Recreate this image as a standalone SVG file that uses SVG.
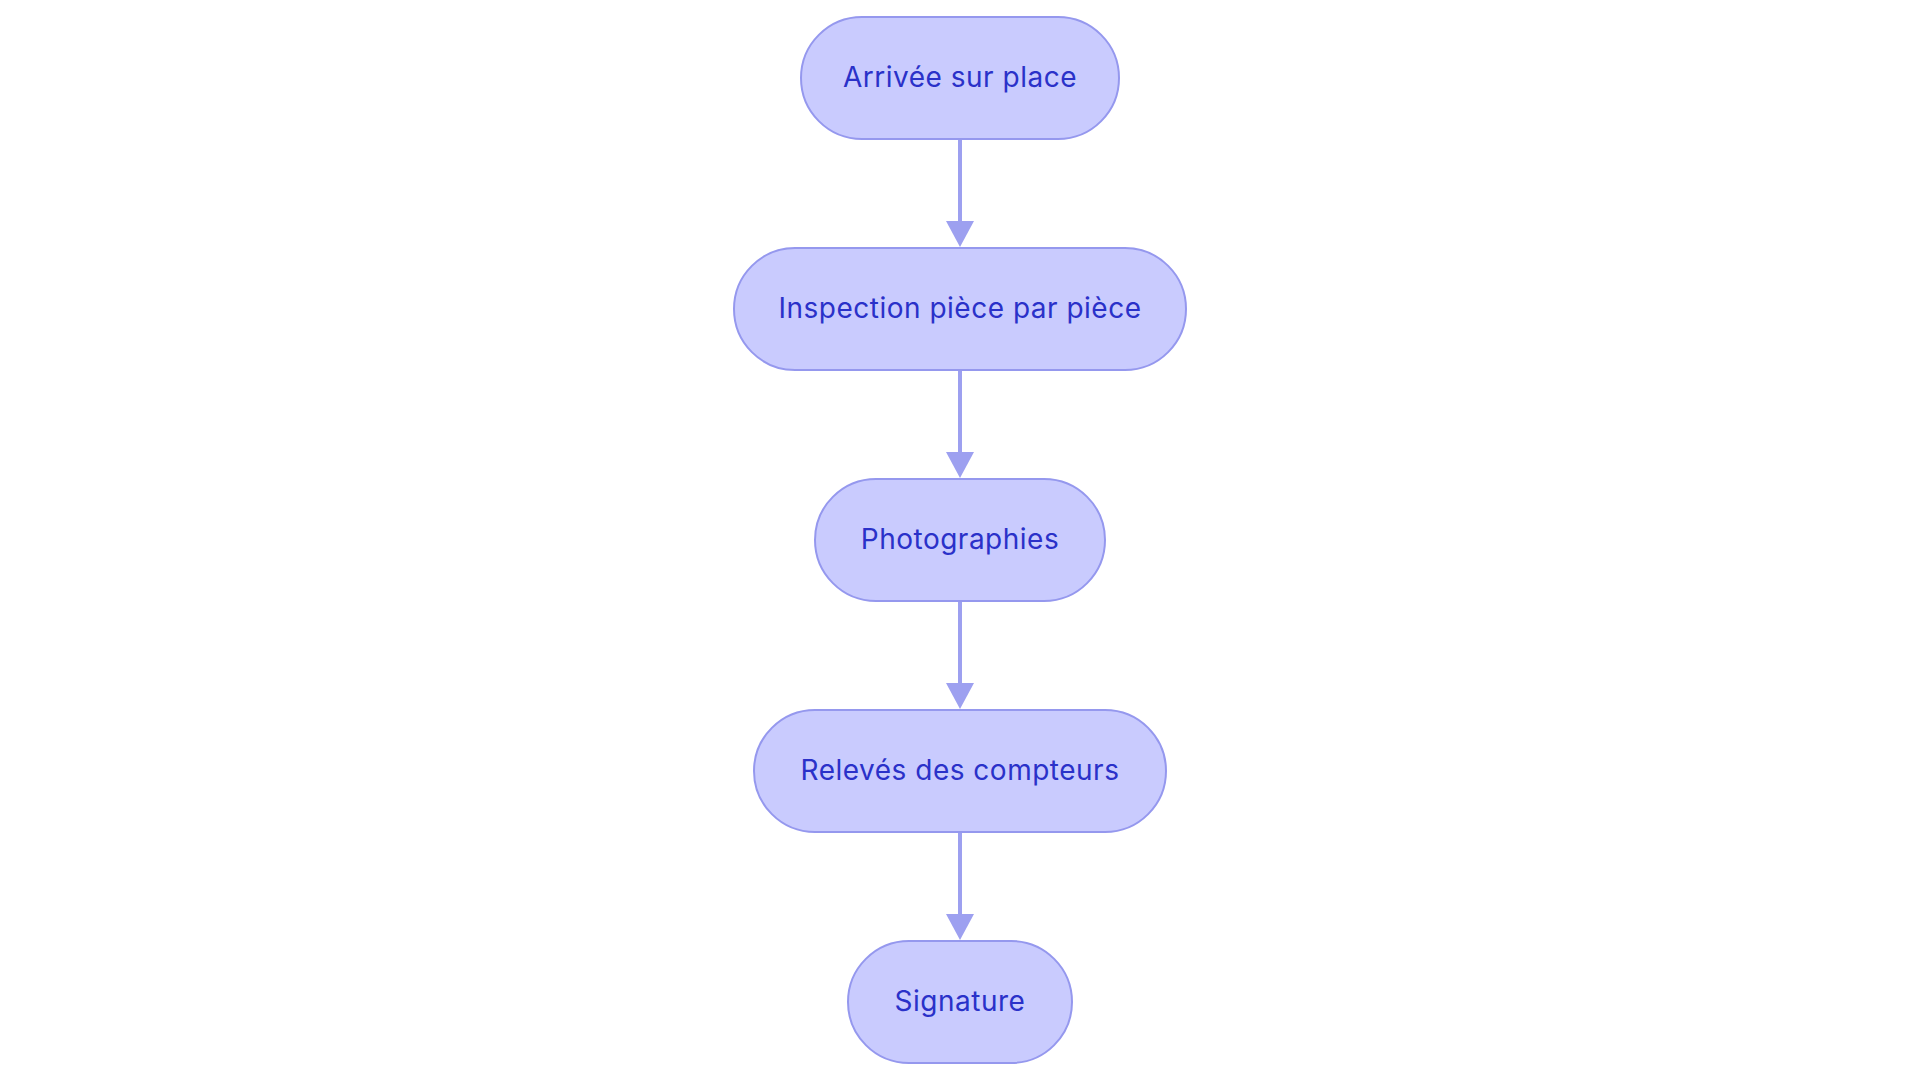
<svg xmlns="http://www.w3.org/2000/svg" width="1920" height="1083" viewBox="0 0 1920 1083">
<style>
.node rect{fill:#C9CBFE;stroke:#9598EE;stroke-width:2}
.node text{fill:#2A31C9;font-family:Inter,"Noto Sans",sans-serif;font-size:28px;letter-spacing:0.5px;text-anchor:middle}
.edge{stroke:#9DA0F0;stroke-width:4;fill:none}
.head{fill:#9DA0F0}
</style>
<rect width="1920" height="1083" fill="#FFFFFF"/>
<g id="connectors">
<line class="edge" x1="960" y1="139" x2="960" y2="222"/>
<path class="head" d="M946,221 L974,221 L960,247 Z"/>
<line class="edge" x1="960" y1="370" x2="960" y2="453"/>
<path class="head" d="M946,452 L974,452 L960,478 Z"/>
<line class="edge" x1="960" y1="601" x2="960" y2="684"/>
<path class="head" d="M946,683 L974,683 L960,709 Z"/>
<line class="edge" x1="960" y1="832" x2="960" y2="915"/>
<path class="head" d="M946,914 L974,914 L960,940 Z"/>
</g>
<g id="n1" class="node"><rect x="801" y="17" width="318" height="122" rx="61"/><text x="960" y="87">Arrivée sur place</text></g>
<g id="n2" class="node"><rect x="734" y="248" width="452" height="122" rx="61"/><text x="960" y="318">Inspection pièce par pièce</text></g>
<g id="n3" class="node"><rect x="815" y="479" width="290" height="122" rx="61"/><text x="960" y="549">Photographies</text></g>
<g id="n4" class="node"><rect x="754" y="710" width="412" height="122" rx="61"/><text x="960" y="780">Relevés des compteurs</text></g>
<g id="n5" class="node"><rect x="848" y="941" width="224" height="122" rx="61"/><text x="960" y="1011">Signature</text></g>
</svg>
